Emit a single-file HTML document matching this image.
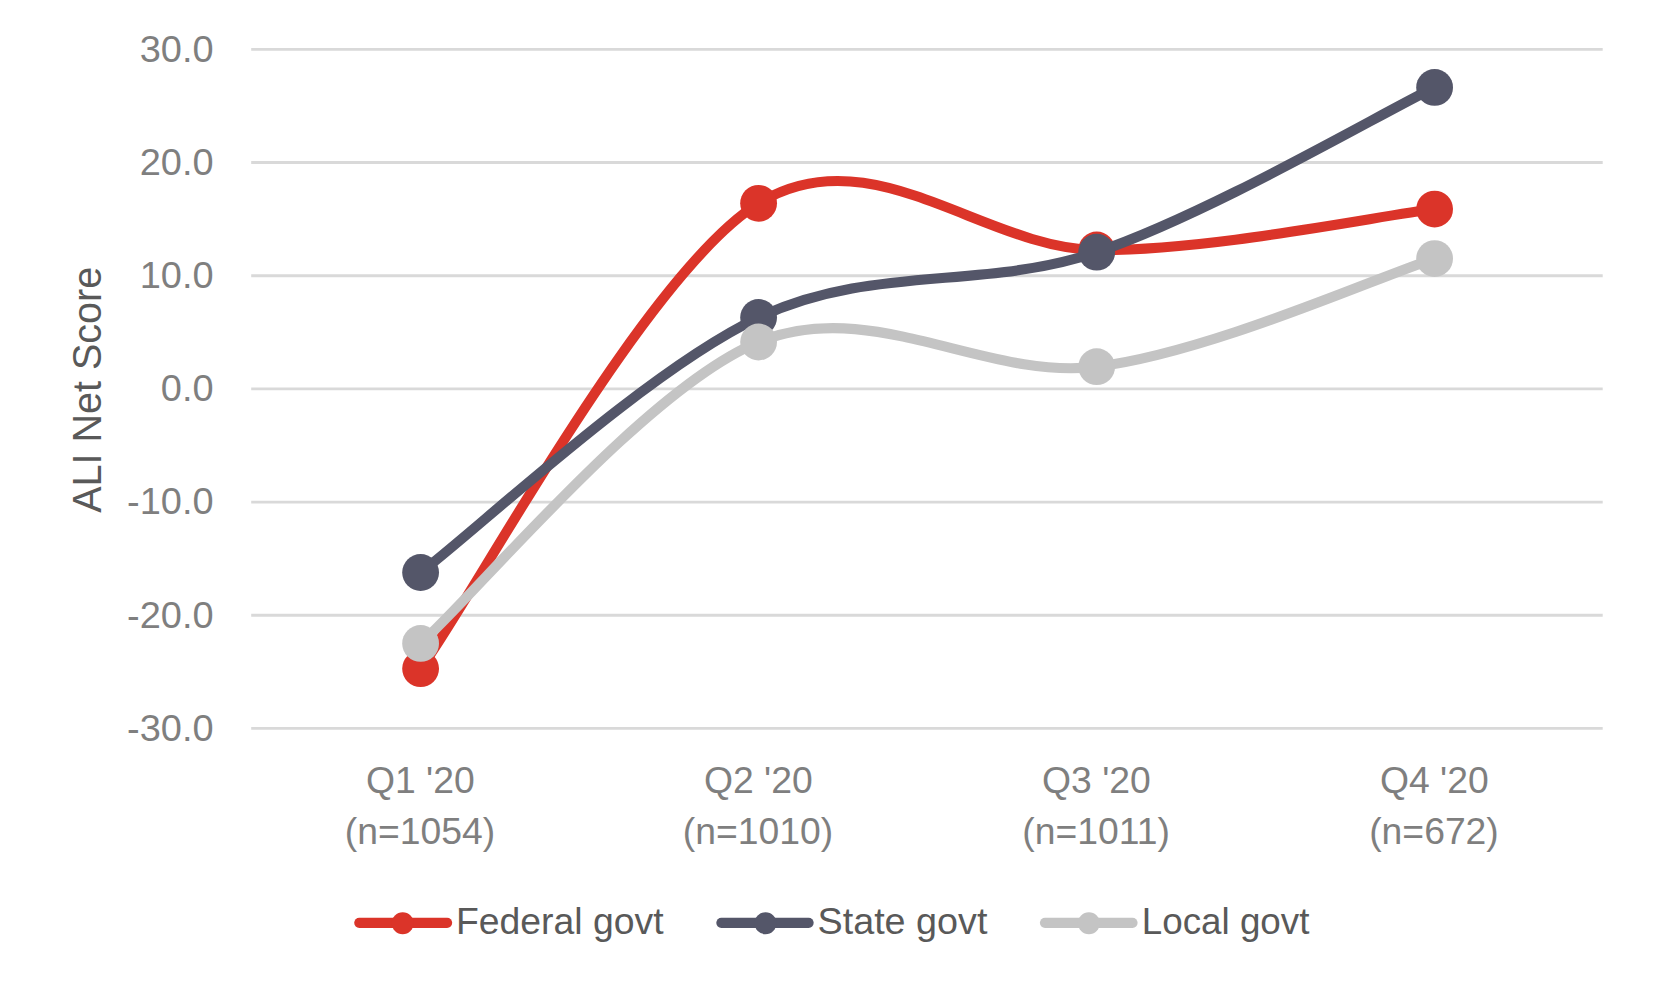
<!DOCTYPE html>
<html lang="en">
<head>
<meta charset="utf-8">
<title>ALI Net Score</title>
<style>
html,body{margin:0;padding:0;background:#fff;}
body{width:1653px;height:990px;overflow:hidden;}
svg{display:block;}
text{font-family:"Liberation Sans",sans-serif;}
</style>
</head>
<body>
<svg width="1653" height="990" viewBox="0 0 1653 990">
<rect width="1653" height="990" fill="#ffffff"/>
<g stroke="#d9d9d9" stroke-width="2.9" fill="none">
<line x1="251.2" y1="49.40" x2="1602.7" y2="49.40"/>
<line x1="251.2" y1="162.57" x2="1602.7" y2="162.57"/>
<line x1="251.2" y1="275.74" x2="1602.7" y2="275.74"/>
<line x1="251.2" y1="388.91" x2="1602.7" y2="388.91"/>
<line x1="251.2" y1="502.08" x2="1602.7" y2="502.08"/>
<line x1="251.2" y1="615.25" x2="1602.7" y2="615.25"/>
<line x1="251.2" y1="728.42" x2="1602.7" y2="728.42"/>
</g>
<g font-size="36" fill="#7f7f7f" text-anchor="end">
<text x="213.6" y="61.7" textLength="73.92" lengthAdjust="spacingAndGlyphs">30.0</text>
<text x="213.6" y="174.9" textLength="73.92" lengthAdjust="spacingAndGlyphs">20.0</text>
<text x="213.6" y="288.0" textLength="73.92" lengthAdjust="spacingAndGlyphs">10.0</text>
<text x="213.6" y="401.2" textLength="52.80" lengthAdjust="spacingAndGlyphs">0.0</text>
<text x="213.6" y="514.4" textLength="86.57" lengthAdjust="spacingAndGlyphs">-10.0</text>
<text x="213.6" y="627.5" textLength="86.57" lengthAdjust="spacingAndGlyphs">-20.0</text>
<text x="213.6" y="740.7" textLength="86.57" lengthAdjust="spacingAndGlyphs">-30.0</text>
</g>
<text transform="translate(101.4 389.8) rotate(-90)" font-size="40" fill="#595959" text-anchor="middle" textLength="246.02" lengthAdjust="spacingAndGlyphs">ALI Net Score</text>
<g font-size="36" fill="#7f7f7f" text-anchor="middle">
<text x="420.3" y="793" textLength="108.72" lengthAdjust="spacingAndGlyphs">Q1 '20</text>
<text x="420.0" y="843.6" textLength="150.33" lengthAdjust="spacingAndGlyphs">(n=1054)</text>
<text x="758.3" y="793" textLength="108.72" lengthAdjust="spacingAndGlyphs">Q2 '20</text>
<text x="758.0" y="843.6" textLength="150.33" lengthAdjust="spacingAndGlyphs">(n=1010)</text>
<text x="1096.4" y="793" textLength="108.72" lengthAdjust="spacingAndGlyphs">Q3 '20</text>
<text x="1096.1" y="843.6" textLength="147.57" lengthAdjust="spacingAndGlyphs">(n=1011)</text>
<text x="1434.3" y="793" textLength="108.72" lengthAdjust="spacingAndGlyphs">Q4 '20</text>
<text x="1434.0" y="843.6" textLength="129.59" lengthAdjust="spacingAndGlyphs">(n=672)</text>
</g>
<g fill="#db3429" stroke="none">
<path d="M420.6 668.7 C476.9 591.1 645.9 273.1 758.6 203.3 C871.3 133.5 984.0 249.0 1096.7 250.0 C1209.4 251.0 1378.3 215.9 1434.6 209.1" fill="none" stroke="#db3429" stroke-width="10.1" stroke-linecap="round" stroke-linejoin="round"/>
<circle cx="420.6" cy="668.7" r="18.4"/>
<circle cx="758.6" cy="203.3" r="18.4"/>
<circle cx="1096.7" cy="250.0" r="18.4"/>
<circle cx="1434.6" cy="209.1" r="18.4"/>
</g>
<g fill="#545669" stroke="none">
<path d="M420.6 572.5 C476.9 530.0 645.9 370.9 758.6 317.5 C871.3 264.1 984.0 290.6 1096.7 252.2 C1209.4 213.8 1378.3 114.9 1434.6 87.4" fill="none" stroke="#545669" stroke-width="10.1" stroke-linecap="round" stroke-linejoin="round"/>
<circle cx="420.6" cy="572.5" r="18.4"/>
<circle cx="758.6" cy="317.5" r="18.4"/>
<circle cx="1096.7" cy="252.2" r="18.4"/>
<circle cx="1434.6" cy="87.4" r="18.4"/>
</g>
<g fill="#c4c4c4" stroke="none">
<path d="M420.6 643.4 C476.9 593.2 645.9 388.1 758.6 342.0 C871.3 295.9 984.0 380.6 1096.7 366.7 C1209.4 352.8 1378.3 276.6 1434.6 258.6" fill="none" stroke="#c4c4c4" stroke-width="10.1" stroke-linecap="round" stroke-linejoin="round"/>
<circle cx="420.6" cy="643.4" r="18.4"/>
<circle cx="758.6" cy="342.0" r="18.4"/>
<circle cx="1096.7" cy="366.7" r="18.4"/>
<circle cx="1434.6" cy="258.6" r="18.4"/>
</g>
<line x1="359.3" y1="922.8" x2="447.1" y2="922.8" stroke="#db3429" stroke-width="10.2" stroke-linecap="round"/>
<circle cx="402.7" cy="923.2" r="11" fill="#db3429"/>
<text x="456.0" y="934.4" font-size="36" fill="#595959" textLength="207.52" lengthAdjust="spacingAndGlyphs">Federal govt</text>
<line x1="721.4" y1="922.8" x2="808.6" y2="922.8" stroke="#545669" stroke-width="10.2" stroke-linecap="round"/>
<circle cx="765.5" cy="923.2" r="11" fill="#545669"/>
<text x="817.5" y="934.4" font-size="36" fill="#595959" textLength="169.89" lengthAdjust="spacingAndGlyphs">State govt</text>
<line x1="1045.0" y1="922.8" x2="1132.5" y2="922.8" stroke="#c4c4c4" stroke-width="10.2" stroke-linecap="round"/>
<circle cx="1088.9" cy="923.2" r="11" fill="#c4c4c4"/>
<text x="1141.8" y="934.4" font-size="36" fill="#595959" textLength="167.56" lengthAdjust="spacingAndGlyphs">Local govt</text>
</svg>
</body>
</html>
